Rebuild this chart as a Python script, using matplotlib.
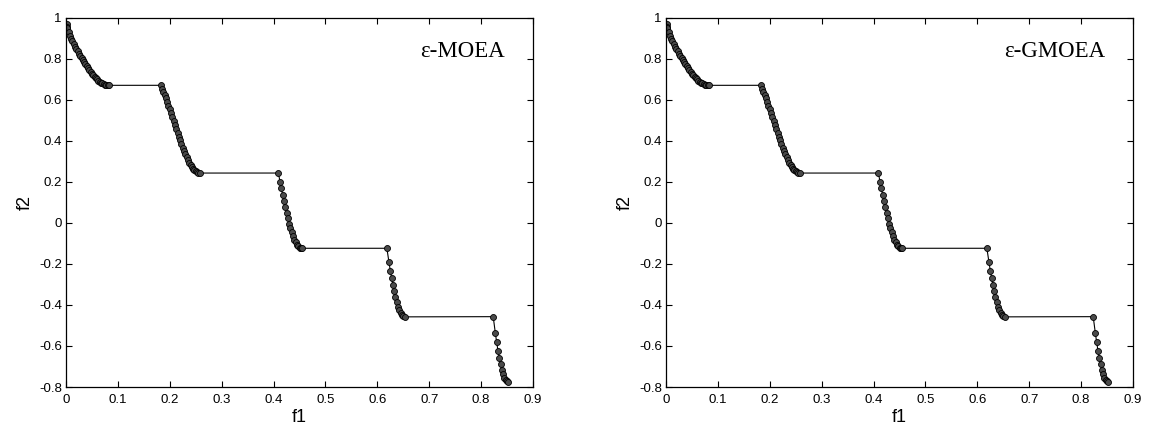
import matplotlib
matplotlib.use("Agg")
import matplotlib.pyplot as plt

plt.rcParams['axes.unicode_minus'] = False
plt.rcParams['font.family'] = ['Liberation Sans', 'DejaVu Sans']

# Pareto front points (same front in both panels)
f1_moea = [0.001, 0.002, 0.0025, 0.005, 0.0075, 0.01, 0.0125, 0.015, 0.0175, 0.02, 0.0225,
           0.025, 0.0275, 0.03, 0.0325, 0.035, 0.0375, 0.04, 0.0425, 0.045, 0.0475, 0.05,
           0.0525, 0.055, 0.0575, 0.06, 0.0625, 0.065, 0.0675, 0.07, 0.0725, 0.075, 0.0775,
           0.08, 0.083,
           0.1822, 0.185, 0.1875, 0.19, 0.1925, 0.195, 0.1975, 0.2, 0.2025, 0.205, 0.2075,
           0.21, 0.2125, 0.215, 0.2175, 0.22, 0.2225, 0.225, 0.2275, 0.23, 0.2325, 0.235,
           0.2375, 0.24, 0.2425, 0.245, 0.2475, 0.25, 0.2525, 0.255, 0.2578,
           0.4093, 0.4125, 0.415, 0.4175, 0.42, 0.4225, 0.425, 0.4275, 0.43, 0.4325, 0.435,
           0.4375, 0.44, 0.4425, 0.445, 0.4475, 0.45, 0.4525, 0.4539,
           0.6184, 0.6225, 0.625, 0.6275, 0.63, 0.6325, 0.635, 0.6375, 0.64, 0.6425, 0.645,
           0.6475, 0.65, 0.6525,
           0.8233, 0.8275, 0.83, 0.8325, 0.835, 0.8375, 0.84, 0.8425, 0.845, 0.8475, 0.85, 0.8518]
f2_moea = [0.968, 0.955, 0.9498, 0.9285, 0.9116, 0.897, 0.8834, 0.8707, 0.8586, 0.8468, 0.8354,
           0.8242, 0.8133, 0.8025, 0.792, 0.7817, 0.7718, 0.762, 0.7525, 0.7434, 0.7347, 0.7264,
           0.7186, 0.7112, 0.7043, 0.698, 0.6923, 0.6871, 0.6826, 0.6788, 0.6756, 0.6731, 0.6713,
           0.6702, 0.6696,
           0.6697, 0.6539, 0.6388, 0.6228, 0.6062, 0.5889, 0.5711, 0.5528, 0.5341, 0.5151, 0.4961,
           0.4768, 0.4577, 0.4387, 0.42, 0.4017, 0.3838, 0.3666, 0.35, 0.3343, 0.3196, 0.3058,
           0.2933, 0.2819, 0.2718, 0.2629, 0.2558, 0.25, 0.2458, 0.2431, 0.2422,
           0.2423, 0.1998, 0.1674, 0.1358, 0.1049, 0.0756, 0.0476, 0.0211, -0.0036, -0.0263, -0.0471,
           -0.0656, -0.0817, -0.0955, -0.1068, -0.1151, -0.1208, -0.1238, -0.1242,
           -0.1242, -0.1933, -0.2325, -0.2693, -0.3034, -0.3346, -0.3627, -0.3874, -0.4087, -0.4264,
           -0.4404, -0.4502, -0.4562, -0.4583,
           -0.4574, -0.5389, -0.5825, -0.6222, -0.6578, -0.6889, -0.7154, -0.7371, -0.7541, -0.7655,
           -0.772, -0.7733]
f1_gmoea = list(f1_moea)
f2_gmoea = list(f2_moea)

titles = ["ε-MOEA", "ε-GMOEA"]
x_ticks = [0, 0.1, 0.2, 0.3, 0.4, 0.5, 0.6, 0.7, 0.8, 0.9]
x_labels = ["0", "0.1", "0.2", "0.3", "0.4", "0.5", "0.6", "0.7", "0.8", "0.9"]
y_ticks = [-0.8, -0.6, -0.4, -0.2, 0, 0.2, 0.4, 0.6, 0.8, 1]
y_labels = ["-0.8", "-0.6", "-0.4", "-0.2", "0", "0.2", "0.4", "0.6", "0.8", "1"]

fig = plt.figure(figsize=(11.52, 4.33), dpi=100)
lefts = [66 / 1152, 666 / 1152]
series = [(f1_moea, f2_moea), (f1_gmoea, f2_gmoea)]
for left, (xs, ys), title in zip(lefts, series, titles):
    ax = fig.add_axes([left, 1 - 387 / 433, 467 / 1152, (387 - 17.5) / 433])
    ax.plot(xs, ys, color='black', lw=0.8, marker='o', ms=4.3,
            mfc='#4a4a4a', mec='black', mew=0.6)
    ax.set_xlim(0, 0.9)
    ax.set_ylim(-0.8, 1)
    ax.set_xticks(x_ticks)
    ax.set_xticklabels(x_labels)
    ax.set_yticks(y_ticks)
    ax.set_yticklabels(y_labels)
    ax.tick_params(direction='in', top=True, right=True, length=4, width=0.8,
                   labelsize=9.5)
    ax.tick_params(axis='x', pad=5)
    ax.tick_params(axis='y', pad=3)
    for s in ax.spines.values():
        s.set_linewidth(0.9)
    ax.set_xlabel("f1", fontsize=13, labelpad=2)
    ax.set_ylabel("f2", fontsize=13, labelpad=4)
    ax.text(0.94, 0.907, title, transform=ax.transAxes, ha='right', va='center',
            fontsize=16.5, family=['Liberation Serif', 'DejaVu Serif'])

fig.savefig("out.png", dpi=100)
